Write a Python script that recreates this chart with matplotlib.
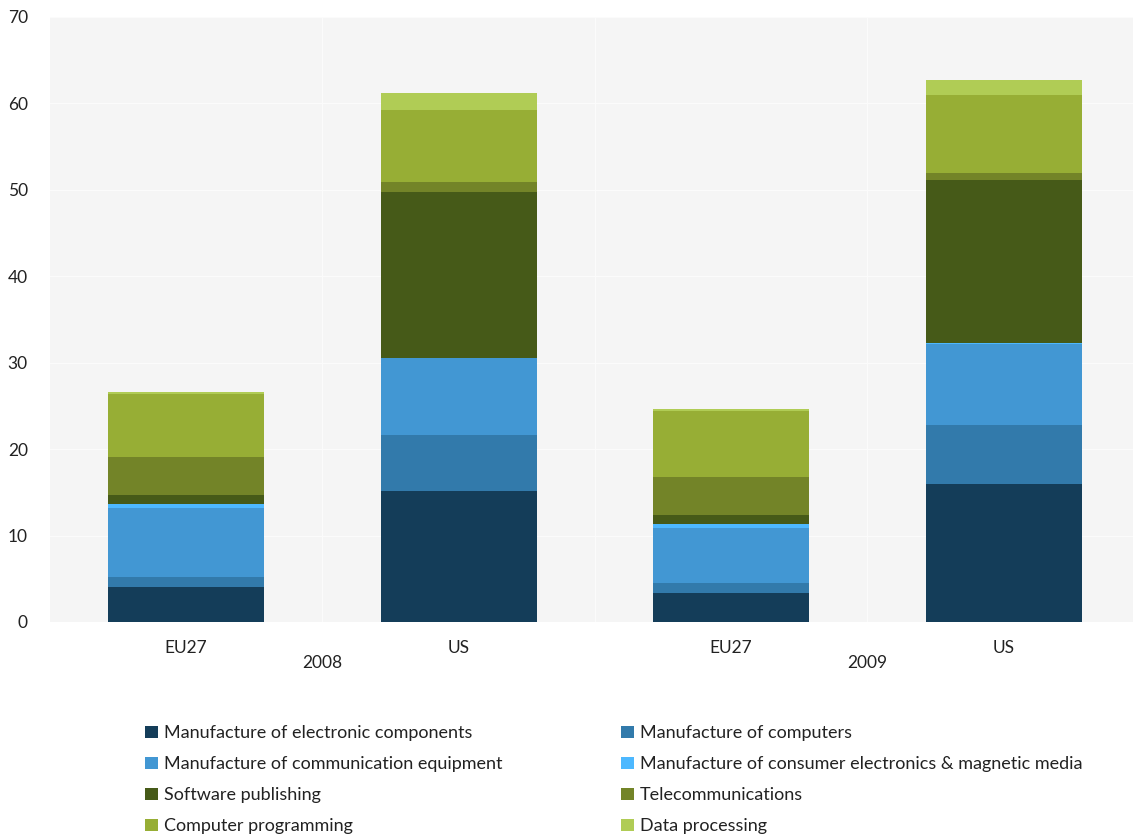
import matplotlib.pyplot as plt
import matplotlib.transforms as mtransforms
import numpy as np

plt.rcParams['font.family'] = ['Lato', 'DejaVu Sans']

# data: stacked segments, order EU27 2008, US 2008, EU27 2009, US 2009
bars = ['EU27', 'US', 'EU27', 'US']
years = ['2008', '2009']
series = [
    'Manufacture of electronic components',
    'Manufacture of computers',
    'Manufacture of communication equipment',
    'Manufacture of consumer electronics & magnetic media',
    'Software publishing',
    'Telecommunications',
    'Computer programming',
    'Data processing',
]
electronic = [4.0, 15.2, 3.4, 16.0]
computers = [1.25, 6.4, 1.1, 6.8]
communication = [7.9, 8.9, 6.4, 9.4]
consumer = [0.5, 0.1, 0.45, 0.1]
software = [1.1, 19.2, 1.0, 18.8]
telecom = [4.35, 1.15, 4.4, 0.9]
programming = [7.3, 8.3, 7.7, 9.0]
data_proc = [0.2, 1.9, 0.15, 1.7]

colors = ['#143d59', '#327aab', '#4297d3', '#4db8ff',
          '#465a18', '#738428', '#97ae35', '#b0cc55']

values = [electronic, computers, communication, consumer,
          software, telecom, programming, data_proc]

fig = plt.figure(figsize=(11.33, 8.36), dpi=100)
ax = fig.add_axes([50 / 1133, 214 / 836, 1083 / 1133, 605 / 836])
ax.set_facecolor('#f5f5f5')

x = np.arange(len(bars))
bottom = np.zeros(len(bars))
handles = []
for name, vals, col in zip(series, values, colors):
    h = ax.bar(x, vals, 0.573, bottom=bottom, color=col, label=name,
               edgecolor='none', zorder=3)
    handles.append(h)
    bottom += np.array(vals)

ax.set_xlim(-0.5, 3.475)
ax.set_ylim(0, 70)
ax.set_yticks(range(0, 71, 10))
ax.yaxis.grid(True, color='#fbfbfb', linewidth=0.9, zorder=1)
for b in [0.5, 1.5, 2.5]:
    ax.axvline(b, color='#fbfbfb', linewidth=0.9, zorder=1)
for s in ax.spines.values():
    s.set_visible(False)
ax.tick_params(length=0, labelsize=12.5, colors='#222222')
ax.tick_params(axis='y', pad=16)
ax.set_xticks(x)
ax.set_xticklabels(bars)
ax.tick_params(axis='x', pad=13)

trans = mtransforms.blended_transform_factory(ax.transData, ax.transAxes)
for pos, yr in zip([0.5, 2.5], years):
    ax.text(pos, -0.068, yr, transform=trans, ha='center', va='center',
            fontsize=12.5, color='#222222')

order = [0, 2, 4, 6, 1, 3, 5, 7]
fig.legend([handles[i] for i in order], [series[i] for i in order],
           ncol=2, loc='upper left', bbox_to_anchor=(138 / 1133, 1 - 718 / 836),
           frameon=False, fontsize=13, handlelength=0.7, handleheight=0.7,
           handletextpad=0.35, columnspacing=6.55, labelspacing=0.83,
           borderaxespad=0, labelcolor='#222222')

fig.savefig('out.png', dpi=100)
